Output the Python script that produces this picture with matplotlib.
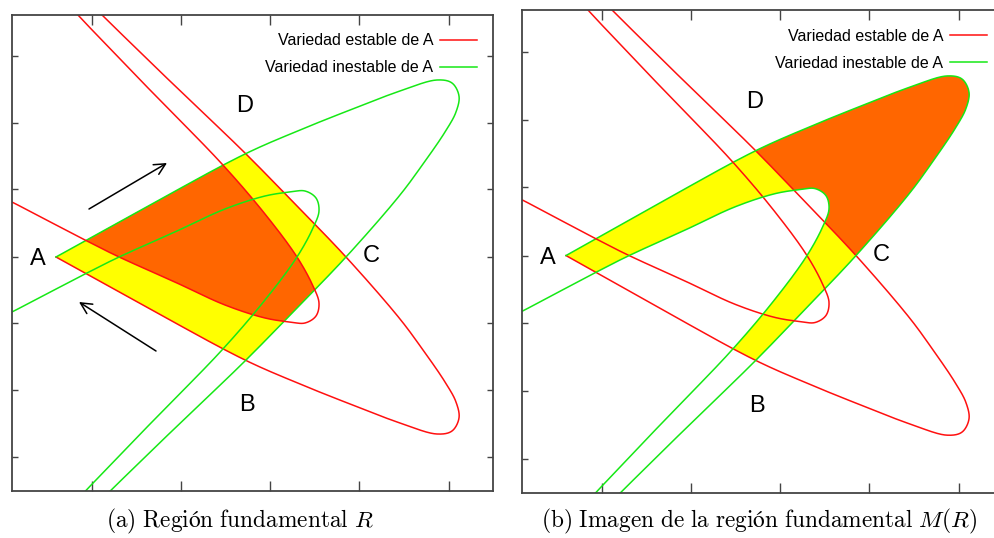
import numpy as np
import matplotlib
matplotlib.use("Agg")
import matplotlib.pyplot as plt
from matplotlib.patches import Polygon

plt.rcParams['mathtext.fontset'] = 'cm'

# stable manifold of A (outer and inner branches), plane coordinates, y grows downward
stable_out_x = [56, 150, 245, 300, 350, 400, 437, 452, 459, 456, 445, 423, 400, 346, 296, 245, 173, 102, 95]
stable_out_y = [257, 309, 360, 384, 404, 423, 434, 431, 418, 402, 382, 350, 319, 257, 205, 153, 84, 15, 8]
stable_in_x = [0, 12, 85, 117, 177, 225, 265, 290, 305, 316, 319, 313, 297, 265, 222, 150, 78, 72]
stable_in_y = [196, 202, 240, 256, 283, 305, 318, 322, 323, 316, 303, 286, 257, 214, 164, 90, 15, 8]

# unstable manifold of A
unstable_out_x = [56, 150, 245, 300, 350, 400, 437, 452, 459, 456, 445, 423, 400, 346, 296, 245, 173, 102, 95]
unstable_out_y = [257, 205, 154, 130, 110, 91, 80, 83, 96, 112, 132, 164, 195, 257, 309, 361, 430, 499, 506]
unstable_in_x = [0, 12, 85, 117, 177, 225, 265, 290, 305, 316, 319, 313, 297, 265, 222, 150, 78, 72]
unstable_in_y = [318, 312, 274, 258, 231, 209, 196, 192, 191, 198, 211, 228, 257, 300, 350, 424, 499, 506]

point_names = ['A', 'B', 'C', 'D']
point_x = [38, 247, 371, 245]
point_y = [259, 405, 256, 106]

arrow_tail = [(89, 209), (156, 351)]
arrow_head = [(167, 163), (79, 302)]

x_ticks = [92, 181, 270, 359, 449]
y_ticks = [56, 123, 189, 257, 323, 390, 457]

captions = [r'$\mathrm{(a)\ Región\ fundamental}\ R$',
            r'$\mathrm{(b)\ Imagen\ de\ la\ región\ fundamental}\ M(R)$']

RED = '#ff1010'
GREEN = '#16e816'
YELLOW = '#ffff00'
ORANGE = '#ff6600'
SANS = ['Liberation Sans', 'DejaVu Sans']


def smooth(xs, ys, n=40):
    # centripetal Catmull-Rom through the given points
    p = np.column_stack([xs, ys]).astype(float)
    p = np.vstack([2 * p[0] - p[1], p, 2 * p[-1] - p[-2]])
    out = []
    for i in range(1, len(p) - 2):
        p0, p1, p2, p3 = p[i - 1:i + 3]
        t0 = 0.0
        t1 = t0 + np.linalg.norm(p1 - p0) ** 0.5
        t2 = t1 + np.linalg.norm(p2 - p1) ** 0.5
        t3 = t2 + np.linalg.norm(p3 - p2) ** 0.5
        t = np.linspace(t1, t2, n, endpoint=False)[:, None]
        a1 = (t1 - t) / (t1 - t0) * p0 + (t - t0) / (t1 - t0) * p1
        a2 = (t2 - t) / (t2 - t1) * p1 + (t - t1) / (t2 - t1) * p2
        a3 = (t3 - t) / (t3 - t2) * p2 + (t - t2) / (t3 - t2) * p3
        b1 = (t2 - t) / (t2 - t0) * a1 + (t - t0) / (t2 - t0) * a2
        b2 = (t3 - t) / (t3 - t1) * a2 + (t - t1) / (t3 - t1) * a3
        out.append((t2 - t) / (t2 - t1) * b1 + (t - t1) / (t2 - t1) * b2)
    out.append(p[-2][None])
    return np.vstack(out)


s_out = smooth(stable_out_x, stable_out_y)
s_in = smooth(stable_in_x, stable_in_y)
u_out = smooth(unstable_out_x, unstable_out_y)
u_in = smooth(unstable_in_x, unstable_in_y)

# split the outer stable branch at its tip
k = np.argmax(s_out[:, 0])
tip = s_out[k]
above_lower = np.vstack([s_out[:k + 1], [[600, tip[1]], [600, -100], [40, -100], [40, s_out[0, 1]]]])
beyond_upper = np.vstack([s_out[k:], [[s_out[-1, 0], -100], [600, -100], [600, tip[1]]]])
stable_in_region = np.vstack([s_in, [[0, s_in[-1, 1]]]])
unstable_in_region = np.vstack([u_in, [[0, u_in[-1, 1]]]])


def region(ax, pts, color, clip=None, z=1):
    patch = Polygon(pts, closed=True, facecolor=color, edgecolor='none', zorder=z)
    ax.add_patch(patch)
    if clip is not None:
        cp = Polygon(clip, closed=True, transform=ax.transData)
        patch.set_clip_path(cp)
    return patch


fig = plt.figure(figsize=(9.95, 5.38), dpi=100)
W, H = 995.0, 538.0
ax1 = fig.add_axes([12 / W, 1 - 491 / H, 481 / W, 476 / H])
ax2 = fig.add_axes([522 / W, 1 - 493 / H, 481 / W, 483 / H])

# (a) fundamental region R and the part that stays inside it
region(ax1, u_out, YELLOW, clip=s_out)
region(ax1, u_out, ORANGE, clip=stable_in_region)

# (b) image M(R)
region(ax2, u_out, YELLOW, clip=above_lower)
region(ax2, u_out, ORANGE, clip=beyond_upper)
region(ax2, unstable_in_region, 'white', z=1.5)

for ax in (ax1, ax2):
    ax.plot(s_out[:, 0], s_out[:, 1], color=RED, lw=1.1, zorder=2, label='Variedad estable de A')
    ax.plot(u_out[:, 0], u_out[:, 1], color=GREEN, lw=1.1, zorder=2, label='Variedad inestable de A')
    ax.plot(s_in[:, 0], s_in[:, 1], color=RED, lw=1.1, zorder=2)
    ax.plot(u_in[:, 0], u_in[:, 1], color=GREEN, lw=1.1, zorder=2)

    for name, x, y in zip(point_names, point_x, point_y):
        ax.text(x, y, name, ha='center', va='center', fontsize=17, family=SANS)

    ax.set_xlim(12, 493)
    ax.set_ylim(491, 15)
    ax.set_xticks(x_ticks)
    ax.set_yticks(y_ticks)
    ax.tick_params(direction='in', top=True, right=True, labelbottom=False, labelleft=False,
                   color='#444444', width=1.0)
    ax.tick_params(axis='x', length=7)
    ax.tick_params(axis='y', length=4)
    for sp in ax.spines.values():
        sp.set_color('#444444')
        sp.set_linewidth(1.3)

    ax.legend(loc='upper right', bbox_to_anchor=(1 - 10 / 481, 1 - 12 / 476), frameon=False,
              markerfirst=False, handlelength=2.3, handletextpad=0.4, labelspacing=0.75,
              borderaxespad=0, prop={'family': SANS, 'size': 11.5})

for tail, head in zip(arrow_tail, arrow_head):
    ax1.annotate('', xy=head, xytext=tail,
                 arrowprops=dict(arrowstyle='->', lw=1.1, color='black', mutation_scale=20,
                                 shrinkA=0, shrinkB=0))

fig.text(240 / W, 1 - 521 / H, captions[0], ha='center', va='center', fontsize=16.8)
fig.text(759 / W, 1 - 521 / H, captions[1], ha='center', va='center', fontsize=16.8)

fig.savefig('out.png', dpi=100, facecolor='white')
